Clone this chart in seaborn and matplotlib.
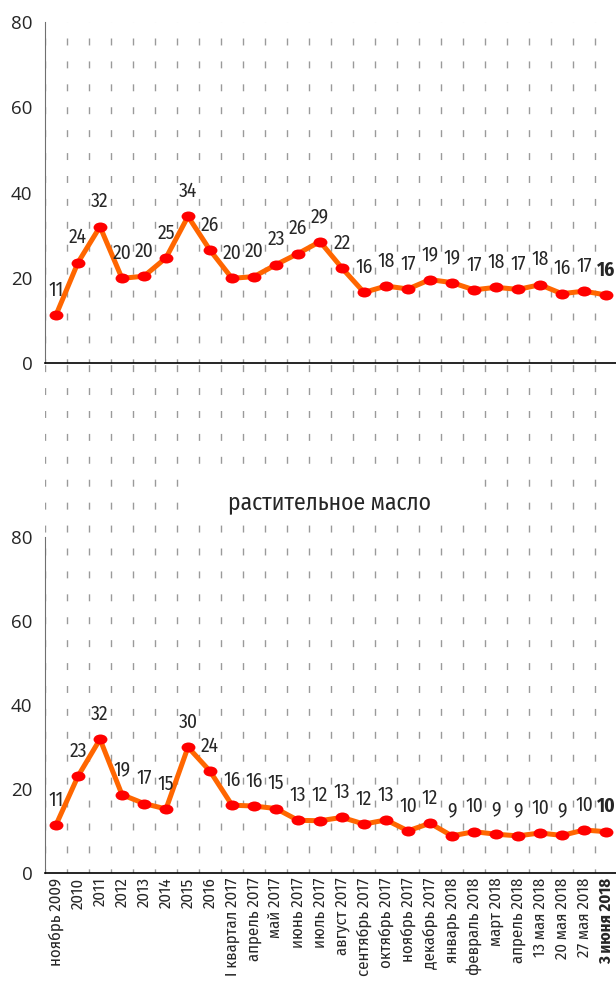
import numpy as np
import pandas as pd
import matplotlib
matplotlib.use("Agg")
import matplotlib.pyplot as plt
import seaborn as sns
from matplotlib.path import Path
from matplotlib.patches import Rectangle

# DATA
categories = ['ноябрь 2009', '2010', '2011', '2012', '2013', '2014', '2015', '2016',
              'I квартал 2017', 'апрель 2017', 'май 2017', 'июнь 2017', 'июль 2017',
              'август 2017', 'сентябрь 2017', 'октябрь 2017', 'ноябрь 2017',
              'декабрь 2017', 'январь 2018', 'февраль 2018', 'март 2018',
              'апрель 2018', '13 мая 2018', '20 мая 2018', '27 мая 2018', '3 июня 2018']

top_values = [11.3, 23.6, 32.0, 19.9, 20.4, 24.7, 34.4, 26.5, 19.9, 20.3, 23.1, 25.7, 28.5,
              22.3, 16.6, 18.1, 17.4, 19.6, 18.9, 17.2, 17.8, 17.3, 18.4, 16.3, 16.9, 16.0]
top_labels = ['11', '24', '32', '20', '20', '25', '34', '26', '20', '20', '23', '26', '29',
              '22', '16', '18', '17', '19', '19', '17', '18', '17', '18', '16', '17', '16']

oil_values = [11.5, 23.1, 31.9, 18.7, 16.6, 15.3, 30.0, 24.3, 16.2, 16.0, 15.4, 12.6, 12.5,
              13.3, 11.7, 12.7, 10.1, 11.9, 8.9, 9.9, 9.3, 8.9, 9.6, 9.0, 10.3, 9.9]
oil_labels = ['11', '23', '32', '19', '17', '15', '30', '24', '16', '16', '15', '13', '12',
              '13', '12', '13', '10', '12', '9', '10', '9', '9', '10', '9', '10', '10']

oil_title = 'растительное масло'
y_ticks = [0, 20, 40, 60, 80]

# STYLE
sns.set_style("white")
plt.rcParams['font.family'] = ['Open Sans', 'DejaVu Sans']
NARROW = ['Fira Sans Condensed', 'Open Sans', 'DejaVu Sans']

LINE_COLOR = '#FF6600'
MARKER_COLOR = '#FF0000'
GRID_COLOR = '#9a9a9a'

circ = Path.unit_circle()
ellipse = Path(circ.vertices * np.array([1.0, 0.72]), circ.codes)

n = len(categories)
x = np.arange(n)

fig = plt.figure(figsize=(6.16, 9.88), dpi=100)
W, H = 616, 988
left = 45 / W
width = 572 / W
ax2 = fig.add_axes([left, 1 - 873.3 / H, width, (873.3 - 363.3) / H])
ax1 = fig.add_axes([left, 1 - 363.3 / H, width, (363.3 - 21.7) / H])
ax1.patch.set_alpha(0)
ax1.set_zorder(2)


def draw_panel(ax, values, labels, ymax):
    df = pd.DataFrame({'x': x, 'y': values})
    sns.lineplot(data=df, x='x', y='y', ax=ax, color=LINE_COLOR, linewidth=3.6,
                 marker=ellipse, markersize=10, markerfacecolor=MARKER_COLOR,
                 markeredgewidth=0, zorder=3)
    for i, (v, lab) in enumerate(zip(values, labels)):
        ax.annotate(lab, (i, v), xytext=(0, 18), textcoords='offset points',
                    ha='center', va='center', fontsize=14, family=NARROW,
                    fontweight='bold' if i == n - 1 else 'normal', zorder=4)
    ax.set_xlim(-0.5, n - 0.5)
    ax.set_ylim(0, ymax)
    ax.set_yticks(y_ticks)
    ax.set_yticklabels([str(t) for t in y_ticks], fontsize=13.5)
    ax.set_xticks(x)
    ax.set_xticks(np.arange(n + 1) - 0.5, minor=True)
    ax.grid(False)
    ax.grid(which='minor', axis='x', color=GRID_COLOR, linewidth=1.0,
            linestyle=(2, (5, 11.5)))
    ax.tick_params(axis='x', which='major', length=0)
    ax.tick_params(axis='x', which='minor', direction='inout', length=8,
                   color=GRID_COLOR, width=1)
    ax.tick_params(axis='y', direction='out', length=5, width=1, color='#606060', pad=4)
    for s in ['top', 'right']:
        ax.spines[s].set_visible(False)
    ax.spines['left'].set_color('#707070')
    ax.spines['left'].set_bounds(0, 80)
    ax.spines['bottom'].set_color('black')
    ax.spines['bottom'].set_linewidth(1.2)
    ax.set_xlabel('')
    ax.set_ylabel('')


draw_panel(ax1, top_values, top_labels, 80)
ax1.set_xticklabels([])

draw_panel(ax2, oil_values, oil_labels, 121.3)
ax2.set_xticklabels(categories, rotation=90, fontsize=12, family=NARROW)
last = ax2.get_xticklabels()[-1]
last.set_fontweight('bold')
ax2.tick_params(axis='x', which='major', pad=3)

# title of the second panel on a white patch over the gridlines
fig.add_artist(Rectangle((181 / W, 1 - 522 / H), 302 / W, 44 / H,
                         transform=fig.transFigure, facecolor='white',
                         edgecolor='none', zorder=5))
fig.text(330 / W, 1 - 502 / H, oil_title, ha='center', va='center',
         fontsize=17, family=NARROW, zorder=6)

fig.savefig('out.png', dpi=100)
